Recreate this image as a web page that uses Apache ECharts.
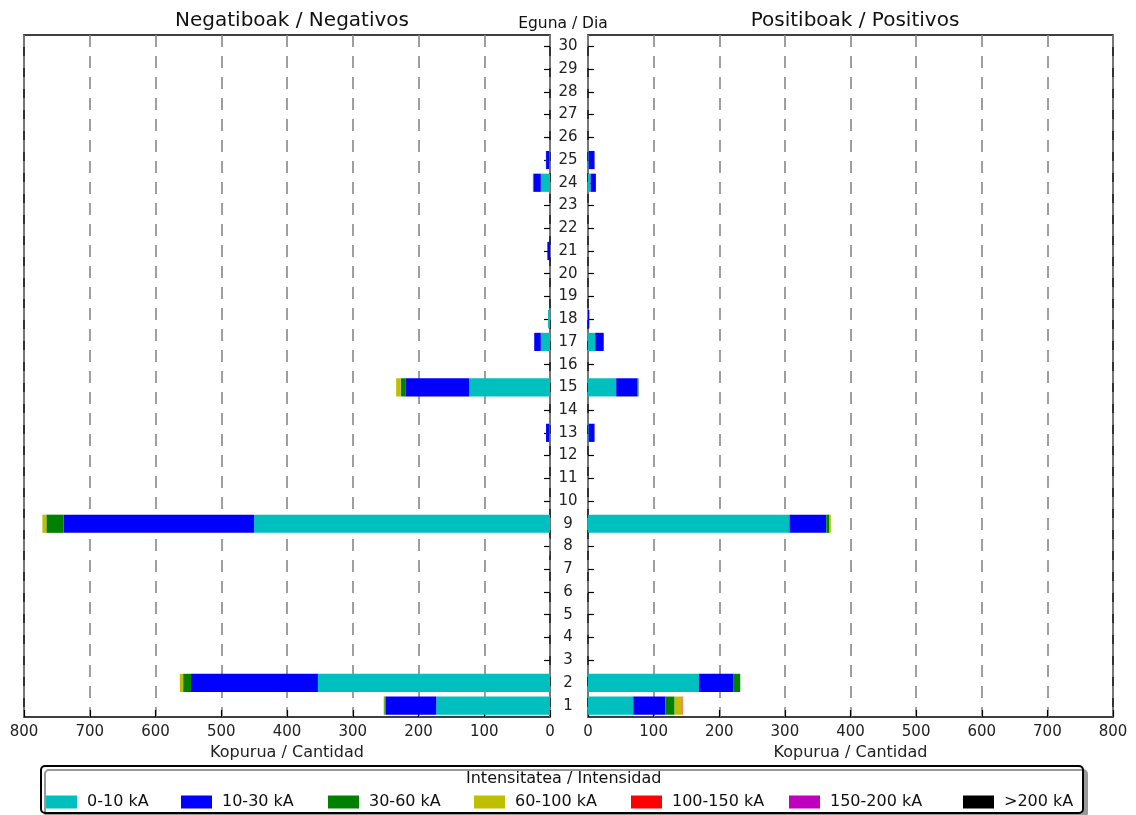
<!DOCTYPE html>
<html><head><meta charset="utf-8">
<script src="https://cdn.jsdelivr.net/npm/echarts@6/dist/echarts.min.js"></script>
<style>html,body{margin:0;padding:0;background:#fff}#c{width:1136px;height:815px}</style>
</head><body><div id="c"></div>
<script>
const days = ['1','2','3','4','5','6','7','8','9','10','11','12','13','14','15','16','17','18','19','20','21','22','23','24','25','26','27','28','29','30'];
const classNames = ['0-10 kA','10-30 kA','30-60 kA','60-100 kA','100-150 kA','150-200 kA','>200 kA'];
const classColors = ['#00BFBF','#0000FF','#008000','#BFBF00','#FF0000','#BF00BF','#000000'];
const xTicks = [0,100,200,300,400,500,600,700,800];
// Negative discharges per day (index 0 = day 1)
const neg_0_10   = [173,353,0,0,0,0,0,1,450,0,0,0,1,0,123,0,14,3,0,0,0,0,0,14,1,0,0,0,0,0];
const neg_10_30  = [77,193,0,0,0,0,0,0,290,0,0,0,5,0,97,0,10,0,0,0,4,0,0,11,5,0,0,0,0,0];
const neg_30_60  = [2,12,0,0,0,0,0,0,26,0,0,0,0,0,7,0,0,0,0,0,0,0,0,1,0,0,0,0,0,0];
const neg_60_100 = [1,5,0,0,0,0,0,0,6,0,0,0,0,0,7,0,0,0,0,0,0,0,0,0,0.5,0,0,0,0,0];
const neg_100_150= [0,0,0,0,0,0,0,0,0,0,0,0,0,0,0,0,0,0,0,0,0,0,0,0,0,0,0,0,0,0];
const neg_150_200= [0,0,0,0,0,0,0,0,0,0,0,0,0,0,0,0,0,0,0,0,0,0,0,0,0,0,0,0,0,0];
const neg_200    = [0,0,0,0,0,0,0,0,0,0,0,0,0,0,0,0,0,0,0,0,0,0,0,0,0,0,0,0,0,0];
// Positive discharges per day
const pos_0_10   = [69,169,0,0,0,0,0,0,307,0,0,0,1,0,43,0,11,0,0,0,0,0,0,4,1,0,0,0,0,0];
const pos_10_30  = [49,53,0,0,0,0,0,0,56,0,0,0,9,0,32,0,13,2,0,0,0,0,0,8,9,0,0,0,0,0];
const pos_30_60  = [14,10,0,0,0,0,0,0,5,0,0,0,0,0,2,0,0,0,0,0,0,0,0,0,0,0,0,0,0,0];
const pos_60_100 = [11,0,0,0,0,0,0,0,2,0,0,0,0,0,0,0,0,0,0,0,0,0,0,0,0,0,0,0,0,0];
const pos_100_150= [1,0,0,0,0,0,0,0,0,0,0,0,0,0,0,0,0,0,0,0,0,0,0,0,0,0,0,0,0,0];
const pos_150_200= [0,0,0,0,0,0,0,0,0,0,0,0,0,0,0,0,0,0,0,0,0,0,0,0,0,0,0,0,0,0];
const pos_200    = [0,0,0,0,0,0,0,0,0,0,0,0,0,0,0,0,0,0,0,0,0,0,0,0,0,0,0,0,0,0];

const negData = [neg_0_10,neg_10_30,neg_30_60,neg_60_100,neg_100_150,neg_150_200,neg_200];
const posData = [pos_0_10,pos_10_30,pos_30_60,pos_60_100,pos_100_150,pos_150_200,pos_200];

const FONT = 'DejaVu Sans';
const legendLefts = [46,181,328,474,631,789,963];
const chart = echarts.init(document.getElementById('c'));

function xAxisCfg(gridIndex, inverse){
  return {
    type:'value', gridIndex, min:0, max:800, interval:100, inverse,
    name:'Kopurua / Cantidad', nameLocation:'middle', nameGap:26,
    nameTextStyle:{fontFamily:FONT,fontSize:16,color:'#222'},
    axisLine:{show:false},
    axisTick:{show:true,inside:true,length:7,lineStyle:{color:'#000',width:1.2}},
    axisLabel:{fontFamily:FONT,fontSize:15,color:'#222',margin:8,
      formatter:v=>xTicks.includes(v)?String(v):''},
    splitLine:{show:true,lineStyle:{color:'#888',width:1.6,type:[12,9]}}
  };
}

const series = [];
classNames.forEach((n,i)=>{
  series.push({name:n,type:'bar',stack:'neg',xAxisIndex:0,yAxisIndex:0,
    data:negData[i],itemStyle:{color:classColors[i]},barCategoryGap:'20%',
    emphasis:{disabled:true}});
});
classNames.forEach((n,i)=>{
  series.push({name:n,type:'bar',stack:'pos',xAxisIndex:1,yAxisIndex:1,
    data:posData[i],itemStyle:{color:classColors[i]},barCategoryGap:'20%',
    emphasis:{disabled:true}});
});

const legends = classNames.map((n,i)=>({
  data:[n],left:legendLefts[i],top:794,padding:0,itemWidth:31,itemHeight:13,
  icon:'rect',selectedMode:false,
  textStyle:{fontFamily:FONT,fontSize:16,color:'#111',padding:[0,0,0,5]}
}));

chart.setOption({
  animation:false,
  textStyle:{fontFamily:FONT},
  title:[
    {text:'Negatiboak / Negativos',left:287,top:6,textAlign:'center',
      textStyle:{fontFamily:FONT,fontSize:20,fontWeight:'normal',color:'#111'}},
    {text:'Positiboak / Positivos',left:850,top:6,textAlign:'center',
      textStyle:{fontFamily:FONT,fontSize:20,fontWeight:'normal',color:'#111'}},
    {text:'Eguna / Dia',left:558,top:11,textAlign:'center',
      textStyle:{fontFamily:FONT,fontSize:15.5,fontWeight:'normal',color:'#111'}}
  ],
  grid:[
    {left:24,right:1136-550,top:35,bottom:815-717,show:true,borderColor:'#000',borderWidth:1.6,backgroundColor:'transparent'},
    {left:588,right:1136-1113,top:35,bottom:815-717,show:true,borderColor:'#000',borderWidth:1.6,backgroundColor:'transparent'}
  ],
  xAxis:[xAxisCfg(0,true),xAxisCfg(1,false)],
  yAxis:[
    {type:'category',gridIndex:0,data:days,position:'right',
      axisLine:{show:false},
      axisTick:{show:true,inside:true,length:6,alignWithLabel:true,lineStyle:{color:'#000',width:1.2}},
      axisLabel:{fontFamily:FONT,fontSize:15,color:'#222',align:'center',margin:18},
      splitLine:{show:false}},
    {type:'category',gridIndex:1,data:days,position:'left',
      axisLine:{show:false},
      axisTick:{show:true,inside:true,length:6,alignWithLabel:true,lineStyle:{color:'#000',width:1.2}},
      axisLabel:{show:false},
      splitLine:{show:false}}
  ],
  legend:legends,
  graphic:[
    {type:'rect',left:40,top:765,z:-1,shape:{x:0,y:0,width:1042,height:47,r:4},
      style:{fill:'#fff',stroke:'#000',lineWidth:2,shadowColor:'#999',shadowOffsetX:4,shadowOffsetY:4,shadowBlur:0}},
    {type:'text',left:466,top:771,style:{text:'Intensitatea / Intensidad',font:'16px "DejaVu Sans"',fill:'#111'}}
  ],
  series
});
</script></body></html>
